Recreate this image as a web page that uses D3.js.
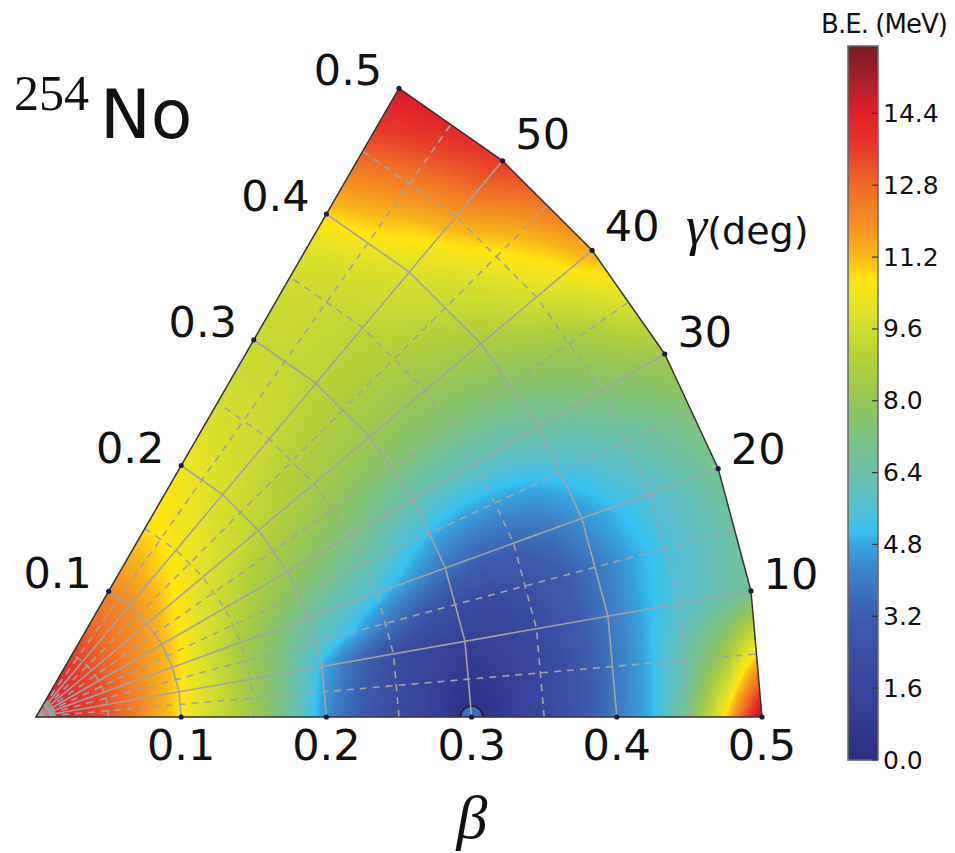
<!DOCTYPE html>
<html>
<head>
<meta charset="utf-8">
<script src="https://cdn.jsdelivr.net/npm/d3@7"></script>
<style>
  body { margin: 0; background: #fff; }
  svg { display: block; }
  text { fill: #111; }
</style>
</head>
<body>
<svg id="chart" width="955" height="853"></svg>
<script>
// grid of the potential energy surface (beta, gamma)
const betas = [0, 0.025, 0.05, 0.075, 0.1, 0.125, 0.15, 0.175, 0.2, 0.225, 0.25,
               0.275, 0.3, 0.325, 0.35, 0.375, 0.4, 0.425, 0.45, 0.475, 0.5];
const gammas = [0, 5, 10, 15, 20, 25, 30, 35, 40, 45, 50, 55, 60];

// binding energy (MeV), one row per gamma, columns follow betas
const energy = [
  [14.6, 14.0, 13.2, 12.0, 10.7, 9.4, 8.3, 6.6, 4.4, 3.0, 2.0, 1.0, 0.0, 0.9, 1.8, 2.8, 4.0, 5.0, 7.2, 10.8, 15.5],  // 0
  [14.6, 14.0, 13.2, 12.0, 10.7, 9.5, 8.3, 6.7, 4.6, 3.2, 2.1, 1.2, 0.6, 1.0, 1.8, 2.8, 3.9, 5.0, 6.5, 8.3, 11.0],   // 5
  [14.6, 14.0, 13.2, 12.0, 10.8, 9.5, 8.3, 6.9, 4.9, 3.5, 2.4, 1.5, 1.1, 1.3, 2.0, 2.9, 3.9, 4.9, 5.6, 6.2, 6.8],    // 10
  [14.6, 14.0, 13.2, 12.0, 10.9, 9.6, 8.4, 7.2, 5.9, 5.1, 4.0, 3.0, 2.3, 2.1, 2.5, 3.1, 3.9, 4.8, 5.4, 6.0, 6.6],    // 15
  [14.6, 14.0, 13.2, 12.0, 11.0, 9.7, 8.5, 7.6, 6.6, 5.9, 5.3, 4.6, 3.8, 3.4, 3.4, 3.8, 4.5, 5.1, 5.6, 6.2, 6.9],    // 20
  [14.6, 14.0, 13.2, 12.1, 11.2, 10.0, 9.0, 8.2, 7.5, 6.9, 6.3, 5.6, 5.0, 4.7, 4.7, 4.9, 5.3, 5.8, 6.3, 6.9, 7.5],   // 25
  [14.6, 14.0, 13.2, 12.2, 11.3, 10.2, 9.3, 8.6, 8.1, 7.6, 7.2, 6.7, 6.2, 6.0, 6.0, 6.2, 6.6, 7.0, 7.5, 7.9, 8.3],   // 30
  [14.6, 14.0, 13.2, 12.3, 11.4, 10.4, 9.6, 9.0, 8.6, 8.2, 7.9, 7.6, 7.4, 7.3, 7.3, 7.4, 7.6, 8.0, 8.4, 9.1, 10.0],  // 35
  [14.6, 14.0, 13.3, 12.4, 11.6, 10.7, 10.0, 9.5, 9.1, 8.8, 8.5, 8.3, 8.2, 8.1, 8.1, 8.3, 8.6, 9.1, 9.8, 10.5, 11.5], // 40
  [14.6, 14.0, 13.3, 12.5, 11.8, 10.9, 10.3, 9.8, 9.4, 9.1, 8.9, 8.8, 8.7, 8.7, 8.8, 9.0, 9.4, 9.9, 10.6, 11.5, 12.6], // 45
  [14.6, 14.1, 13.4, 12.6, 12.0, 11.1, 10.5, 10.1, 9.8, 9.5, 9.3, 9.2, 9.1, 9.1, 9.2, 9.5, 9.9, 10.6, 11.7, 12.8, 13.7], // 50
  [14.6, 14.1, 13.5, 12.7, 12.1, 11.3, 10.7, 10.4, 10.1, 9.8, 9.6, 9.4, 9.3, 9.3, 9.4, 9.8, 10.5, 11.4, 12.4, 13.4, 14.2], // 55
  [14.6, 14.2, 13.6, 12.8, 12.2, 11.4, 10.8, 10.6, 10.4, 10.0, 9.7, 9.5, 9.4, 9.4, 9.6, 10.1, 10.9, 12.0, 13.0, 13.9, 14.6]  // 60
];

// minimum of the surface
const minBeta = 0.3, minGamma = 0;

const betaTicks = [0.1, 0.2, 0.3, 0.4, 0.5];
const betaMinor = [0.05, 0.15, 0.25, 0.35, 0.45];
const gammaTicks = [10, 20, 30, 40, 50];
const gammaMinor = [5, 15, 25, 35, 45, 55];
const cbTicks = [0.0, 1.6, 3.2, 4.8, 6.4, 8.0, 9.6, 11.2, 12.8, 14.4];

// colour map stops (MeV) and colours
const cbStops = [0.0, 0.8, 1.6, 2.4, 3.2, 4.2, 4.8, 5.1, 5.6, 6.4, 7.2, 8.0, 8.8, 9.6, 10.2, 10.7, 11.2, 12.0, 12.8, 13.6, 14.4, 15.2, 15.9];
const cbColors = ["#2c2e80", "#323b91", "#36469c", "#3a4fa3", "#3d5dae", "#3d82c8", "#36a6e0", "#36c1f0",
                  "#55bfcf", "#6bc0aa", "#7ec383", "#94c657", "#b1cf3d", "#d0dc2f", "#e9e324", "#ffe510",
                  "#f9b81a", "#f48c22", "#ef6a27", "#e73b2b", "#e11f2a", "#a3202a", "#7b1e22"];

const svg = d3.select("#chart");
const ox = 36, oy = 717;
const rScale = d3.scaleLinear().domain([0, 0.5]).range([0, 726]);
const color = d3.scaleLinear().domain(cbStops).range(cbColors).clamp(true);

function pt(b, g) {
    const r = rScale(b), a = g * Math.PI / 180;
    return [ox + r * Math.cos(a), oy - r * Math.sin(a)];
}

// wedge outline: straight chords between the 10 degree points
const outline = [[ox, oy]].concat(d3.range(0, 61, 10).map(g => pt(0.5, g)));

svg.append("clipPath").attr("id", "wedge")
    .append("path").attr("d", d3.line()(outline) + "Z");

// ---- shaded surface (bilinear between grid nodes) ----
const x0 = ox, y0 = 80, w = 730, h = 640;
const canvas = document.createElement("canvas");
canvas.width = w; canvas.height = h;
const ctx = canvas.getContext("2d");
const img = ctx.createImageData(w, h);

const lut = d3.range(1024).map(i => d3.rgb(color(i / 1023 * 15.9)));
const db = betas[1] - betas[0], dg = gammas[1] - gammas[0];

function value(b, g) {
    let bi = Math.min(b / db, betas.length - 1.0001), gi = Math.min(g / dg, gammas.length - 1.0001);
    bi = Math.max(bi, 0); gi = Math.max(gi, 0);
    const i = Math.floor(bi), j = Math.floor(gi), tb = bi - i, tg = gi - j;
    const v00 = energy[j][i], v01 = energy[j][i + 1], v10 = energy[j + 1][i], v11 = energy[j + 1][i + 1];
    return (v00 * (1 - tb) + v01 * tb) * (1 - tg) + (v10 * (1 - tb) + v11 * tb) * tg;
}

for (let py = 0; py < h; py++) {
    for (let px = 0; px < w; px++) {
        const dx = x0 + px + 0.5 - ox, dy = oy - (y0 + py + 0.5);
        let g = Math.atan2(dy, dx) * 180 / Math.PI;
        if (g < -2 || g > 62) continue;
        g = Math.max(0, Math.min(60, g));
        const b = rScale.invert(Math.sqrt(dx * dx + dy * dy));
        if (b > 0.505) continue;
        const v = value(b, g);
        const c = lut[Math.max(0, Math.min(1023, Math.round(v / 15.9 * 1023)))];
        const k = (py * w + px) * 4;
        img.data[k] = c.r; img.data[k + 1] = c.g; img.data[k + 2] = c.b; img.data[k + 3] = 255;
    }
}
ctx.putImageData(img, 0, 0);

const plot = svg.append("g").attr("clip-path", "url(#wedge)");
plot.append("image")
    .attr("x", x0).attr("y", y0).attr("width", w).attr("height", h)
    .attr("href", canvas.toDataURL());

// minimum marker
const mp = pt(minBeta, minGamma);
plot.append("circle")
    .attr("cx", mp[0]).attr("cy", mp[1]).attr("r", 11)
    .attr("fill", "#3d6cc4").attr("stroke", "#1c1c2c").attr("stroke-width", 1.5);

// ---- grid ----
const grid = svg.append("g").attr("fill", "none").attr("stroke", "#a3a3a3").attr("stroke-width", 1.6);
const arcPts = d3.range(0, 61, 10);

grid.selectAll(".arc").data(betaTicks.slice(0, 4)).join("path")
    .attr("d", b => d3.line()(arcPts.map(g => pt(b, g))));
grid.selectAll(".arcm").data(betaMinor).join("path")
    .attr("stroke-dasharray", "7,6")
    .attr("d", b => d3.line()(arcPts.map(g => pt(b, g))));
grid.selectAll(".rad").data(gammaTicks).join("path")
    .attr("d", g => d3.line()([pt(0, g), pt(0.5, g)]));
grid.selectAll(".radm").data(gammaMinor).join("path")
    .attr("stroke-dasharray", "7,6")
    .attr("d", g => d3.line()([pt(0, g), pt(0.5, g)]));

svg.append("path")
    .attr("d", d3.line()(outline) + "Z")
    .attr("fill", "none").attr("stroke", "#333").attr("stroke-width", 1.5);

// dots on the edges
const dots = betaTicks.flatMap(b => [pt(b, 0), pt(b, 60)])
    .concat(gammaTicks.map(g => pt(0.5, g)));
svg.selectAll(".dot").data(dots).join("circle")
    .attr("cx", d => d[0]).attr("cy", d => d[1]).attr("r", 2.6)
    .attr("fill", "#1b1b48");

// ---- labels ----
const tickFont = "'DejaVu Sans', sans-serif";
svg.selectAll(".bt").data(betaTicks).join("text")
    .attr("x", b => pt(b, 0)[0]).attr("y", 745)
    .attr("text-anchor", "middle").attr("dominant-baseline", "central")
    .style("font", "43px " + tickFont)
    .text(b => b.toFixed(1));

svg.selectAll(".bl").data(betaTicks).join("text")
    .attr("x", b => pt(b, 60)[0] - 51).attr("y", b => pt(b, 60)[1] - 18)
    .attr("text-anchor", "middle").attr("dominant-baseline", "central")
    .style("font", "43px " + tickFont)
    .text(b => b.toFixed(1));

svg.selectAll(".gt").data(gammaTicks).join("text")
    .attr("x", g => pt(0.5, g)[0] + 40).attr("y", g => pt(0.5, g)[1] - 14 - 0.26 * g)
    .attr("text-anchor", "middle").attr("dominant-baseline", "central")
    .style("font", "43px " + tickFont)
    .text(g => g);

const gl = svg.append("text").attr("x", 686).attr("y", 244);
gl.append("tspan").style("font", "italic 54px 'Liberation Serif', serif").text("γ");
gl.append("tspan").style("font", "38px " + tickFont).text("(deg)");

svg.append("text").attr("x", 472).attr("y", 838).attr("text-anchor", "middle")
    .style("font", "italic 62px 'Liberation Serif', serif").text("β");

// nucleus label
svg.append("text").attr("x", 14).attr("y", 110)
    .style("font", "50px 'Liberation Serif', serif").text("254");
svg.append("text").attr("x", 100).attr("y", 138)
    .style("font", "68px " + tickFont).text("No");

// ---- colour bar ----
const cbX = 848, cbW = 30;
const cbScale = d3.scaleLinear().domain([0, 15.9]).range([760, 46]);
svg.append("g").selectAll("rect").data(d3.range(46, 760)).join("rect")
    .attr("x", cbX).attr("y", d => d).attr("width", cbW).attr("height", 1.2)
    .attr("fill", d => color(cbScale.invert(d + 0.5)));
svg.append("rect").attr("x", cbX).attr("y", 46).attr("width", cbW).attr("height", 714)
    .attr("fill", "none").attr("stroke", "#666").attr("stroke-width", 1.5);

const cbAxis = svg.append("g");
cbAxis.selectAll("line").data(cbTicks).join("line")
    .attr("x1", cbX + cbW - 6).attr("x2", cbX + cbW)
    .attr("y1", d => cbScale(d)).attr("y2", d => cbScale(d))
    .attr("stroke", "#333").attr("stroke-width", 1.2);
cbAxis.selectAll("text").data(cbTicks).join("text")
    .attr("x", cbX + cbW + 5).attr("y", d => cbScale(d))
    .attr("dominant-baseline", "central")
    .style("font", "25px " + tickFont)
    .text(d => d.toFixed(1));

svg.append("text").attr("x", 821).attr("y", 33)
    .style("font", "26px " + tickFont).attr("textLength", 127).text("B.E. (MeV)");
</script>
</body>
</html>
